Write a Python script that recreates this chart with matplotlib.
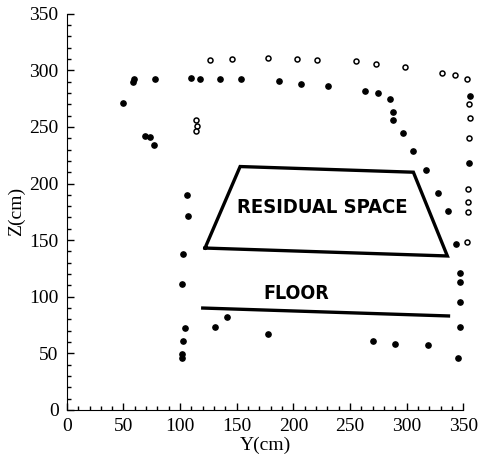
import matplotlib
matplotlib.use("Agg")
import matplotlib.pyplot as plt
from matplotlib.ticker import MultipleLocator

# measured points, Y and Z in cm
filled_y = [50, 58, 59, 78, 69, 73, 77, 110, 118, 135, 154, 187, 207, 231, 263, 275,
            285, 288, 288, 297, 306, 317, 328, 337, 356, 355, 106, 107, 103, 102, 104,
            103, 102, 102, 131, 141, 178, 270, 290, 319, 344, 347, 347, 347, 347, 345]
filled_z = [271, 290, 292, 292, 242, 241, 234, 293, 292, 292, 292, 291, 288, 286, 282, 280,
            275, 263, 256, 245, 229, 212, 192, 176, 277, 218, 190, 171, 138, 111, 72,
            61, 49, 46, 73, 82, 67, 61, 58, 57, 147, 121, 113, 95, 73, 46]

open_y = [126, 146, 178, 203, 221, 255, 273, 299, 331, 343, 353, 355, 356, 355,
          354, 354, 354, 353, 114, 115, 114]
open_z = [309, 310, 311, 310, 309, 308, 306, 303, 298, 296, 292, 270, 258, 240,
          195, 184, 175, 148, 256, 251, 246]

# residual space outline and floor line
space_y = [122, 153, 306, 336, 122]
space_z = [143, 215, 210, 136, 143]
floor_y = [120, 337]
floor_z = [90, 83]

serif = "Liberation Serif"

fig = plt.figure(figsize=(4.81, 4.58), dpi=100)
ax = fig.add_axes([0.139, 0.105, 0.824, 0.865])

ax.plot(space_y, space_z, color="black", lw=2.4, solid_joinstyle="miter")
ax.plot(floor_y, floor_z, color="black", lw=2.4)

ax.plot(filled_y, filled_z, "o", color="black", ms=3.8, ls="none", clip_on=False)
ax.plot(open_y, open_z, "o", mfc="white", mec="black", mew=1.1, ms=3.6, ls="none",
        clip_on=False)

ax.text(226, 179, "RESIDUAL SPACE", ha="center", va="center", fontsize=14.5,
        fontweight="heavy", family="DejaVu Sans", fontstretch="condensed")
ax.text(203, 103, "FLOOR", ha="center", va="center", fontsize=14,
        fontweight="heavy", family="DejaVu Sans", fontstretch="condensed")

ax.set_xlim(0, 350)
ax.set_ylim(0, 350)
ax.xaxis.set_major_locator(MultipleLocator(50))
ax.yaxis.set_major_locator(MultipleLocator(50))
ax.xaxis.set_minor_locator(MultipleLocator(10))
ax.yaxis.set_minor_locator(MultipleLocator(10))
ax.tick_params(which="major", direction="in", length=5, width=1, labelsize=14, pad=6)
ax.tick_params(which="minor", direction="in", length=3, width=1)
for lab in ax.get_xticklabels() + ax.get_yticklabels():
    lab.set_family(serif)

ax.spines["top"].set_visible(False)
ax.spines["right"].set_visible(False)

ax.set_xlabel("Y(cm)", family=serif, fontsize=14, labelpad=1)
ax.set_ylabel("Z(cm)", family=serif, fontsize=14, labelpad=3)

fig.savefig("out.png", dpi=100)
